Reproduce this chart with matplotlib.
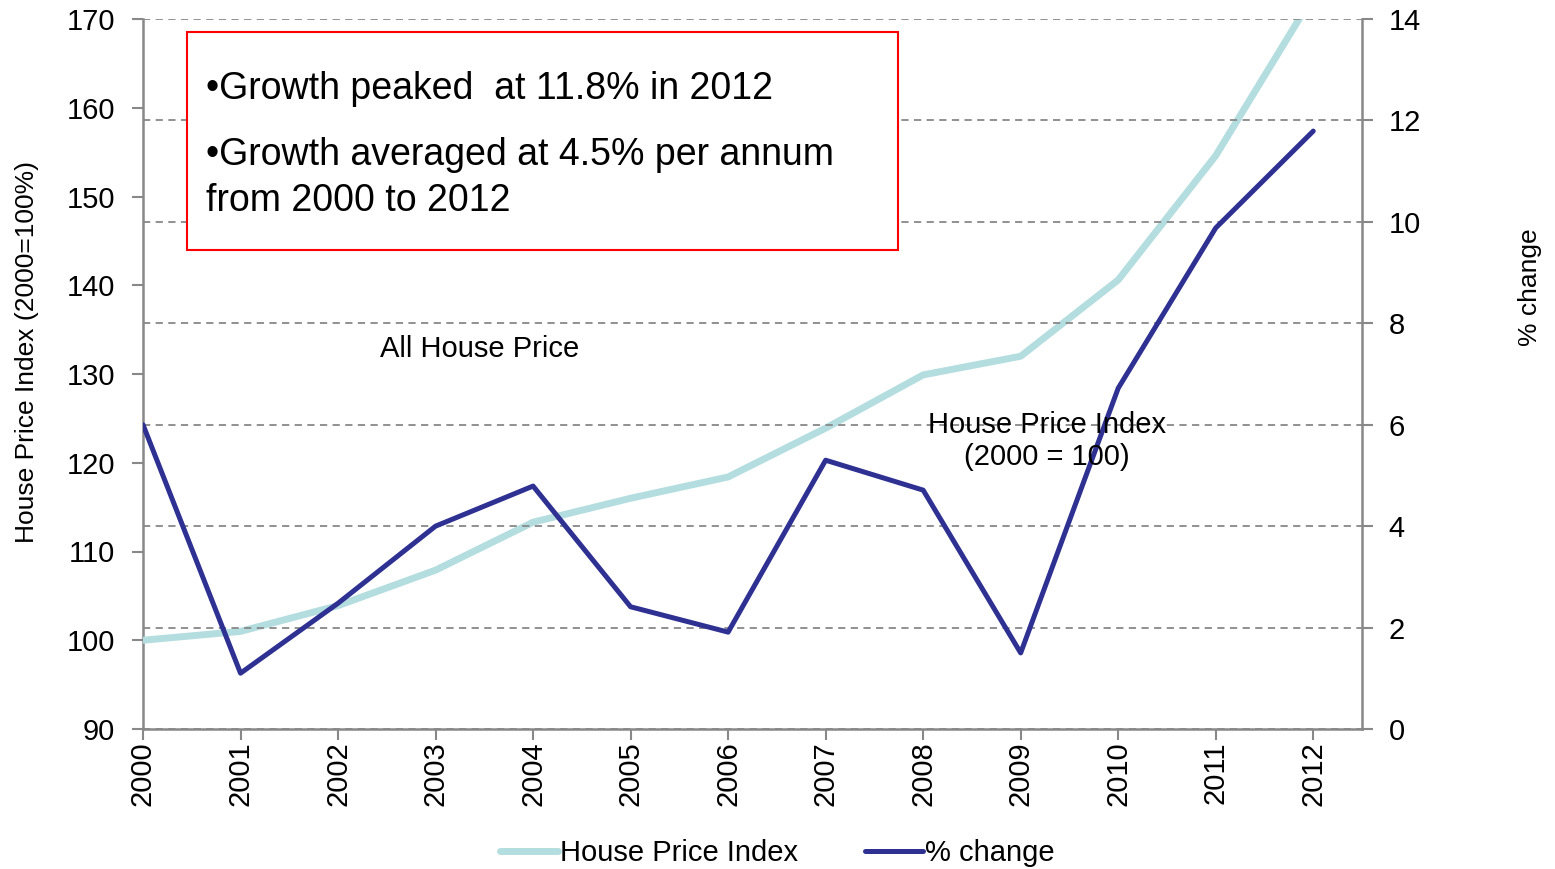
import numpy as np
import matplotlib.pyplot as plt
from matplotlib.patches import Rectangle

plt.rcParams['font.family'] = ['Liberation Sans', 'DejaVu Sans']

years = [2000, 2001, 2002, 2003, 2004, 2005, 2006,
         2007, 2008, 2009, 2010, 2011, 2012]
hpi = [100.0, 101.0, 103.9, 107.9, 113.3, 116.0, 118.4,
       123.9, 129.9, 132.0, 140.6, 154.6, 172.6]
pct_change = [6.0, 1.1, 2.48, 4.0, 4.79, 2.41, 1.91,
              5.3, 4.71, 1.5, 6.72, 9.88, 11.79]

light = '#b4dde0'
dark = '#2e3192'
grey = '#888888'

fig = plt.figure(figsize=(15.55, 8.69), dpi=100)
ax = fig.add_axes([143/1555, 1 - 729/869, (1362 - 143)/1555, (729 - 19)/869])
ax2 = ax.twinx()

l1, = ax.plot(years, hpi, color=light, lw=5, solid_capstyle='round',
              label='House Price Index', zorder=3)
l2, = ax2.plot(years, pct_change, color=dark, lw=3.6, solid_capstyle='round',
               label='% change', zorder=3)

ax.set_xlim(2000, 2012.5)
ax.set_ylim(90, 170)
ax2.set_ylim(0, 14)
ax.set_yticks(np.arange(90, 171, 10))
ax2.set_yticks(np.arange(0, 15, 2))
ax.set_xticks(years)
ax.set_xticklabels([str(y) for y in years], rotation=90)

# gridlines follow the right axis
ax2.grid(axis='y', color=grey, linestyle=(0, (4, 3)), lw=1.3)
ax2.set_axisbelow(True)

for a in (ax, ax2):
    for s in a.spines.values():
        s.set_visible(False)
    a.tick_params(colors=grey, labelcolor='black', labelsize=21,
                  width=1.5, length=8)
ax.spines['left'].set_visible(True)
ax.spines['bottom'].set_visible(True)
ax2.spines['right'].set_visible(True)
for s in (ax.spines['left'], ax.spines['bottom'], ax2.spines['right']):
    s.set_color(grey)
    s.set_linewidth(1.8)
ax.tick_params(axis='x', pad=1)
ax.tick_params(axis='y', pad=12)
ax2.tick_params(axis='y', pad=11)

fig.text(27/1555, 1 - 352/869, 'House Price Index (2000=100%)', rotation=90,
         ha='center', va='center', fontsize=19)
fig.text(1530/1555, 1 - 287/869, '% change', rotation=90,
         ha='center', va='center', fontsize=19)

fig.text(480/1555, 1 - 349/869, 'All House Price', ha='center', va='center',
         fontsize=21)
fig.text(1047/1555, 1 - 441/869, 'House Price Index\n(2000 = 100)',
         ha='center', va='center', fontsize=21, linespacing=1.2)

fig.patches.append(Rectangle((187/1555, 1 - 250/869), (898 - 187)/1555,
                             (250 - 32)/869, transform=fig.transFigure,
                             fill=True, facecolor='white', edgecolor='red',
                             lw=1.5, zorder=5))
fig.text(206/1555, 1 - 89/869, '\u2022Growth peaked  at 11.8% in 2012',
         ha='left', va='center', fontsize=27, zorder=6)
fig.text(206/1555, 1 - 178/869,
         '\u2022Growth averaged at 4.5% per annum\nfrom 2000 to 2012',
         ha='left', va='center', fontsize=27, zorder=6, linespacing=1.35)

fig.legend([l1, l2], ['House Price Index', '% change'], loc='center',
           bbox_to_anchor=(777/1555, 1 - 853/869), ncol=2, frameon=False,
           fontsize=21, handlelength=2.0, handletextpad=0.05,
           columnspacing=2.3)

fig.savefig('out.png', dpi=100)
